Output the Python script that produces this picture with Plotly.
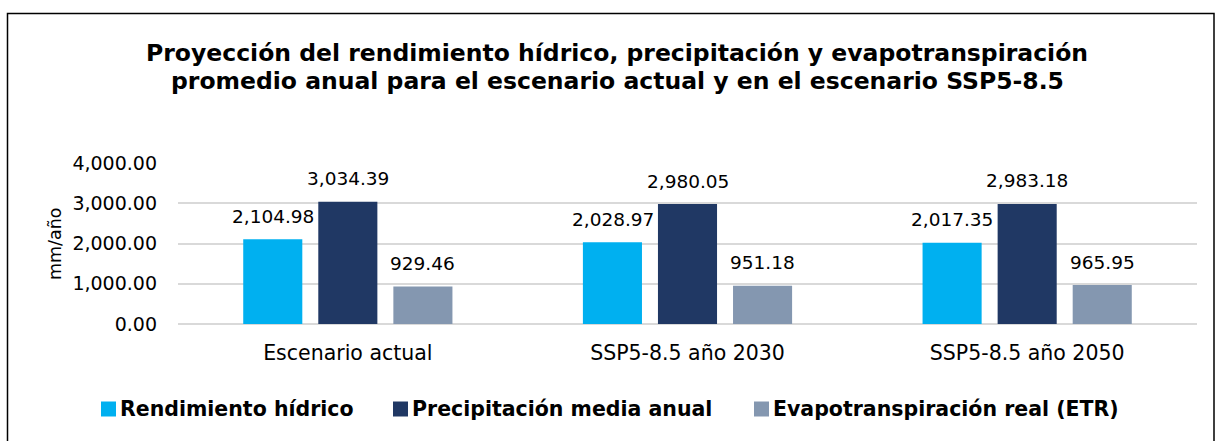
import plotly.graph_objects as go

categories = ["Escenario actual", "SSP5-8.5 año 2030", "SSP5-8.5 año 2050"]
series_names = ["Rendimiento hídrico", "Precipitación media anual", "Evapotranspiración real (ETR)"]
rendimiento = [2104.98, 2028.97, 2017.35]
precipitacion = [3034.39, 2980.05, 2983.18]
etr = [929.46, 951.18, 965.95]
colors = ["#00B0F0", "#203864", "#8497B0"]
y_ticks = [0, 1000, 2000, 3000, 4000]

W, H = 1215, 441
L, R, T, B = 178, 18, 163, 117
pw, ph = W - L - R, H - T - B

def px_x(x):
    return (x - L) / pw

def px_y(y):
    return (H - B - y) / ph

FONT = "DejaVu Sans"

fig = go.Figure()
all_series = [rendimiento, precipitacion, etr]
for name, vals, col in zip(series_names, all_series, colors):
    fig.add_trace(go.Bar(
        x=categories, y=vals, name=name, showlegend=False,
        marker=dict(color=col, line=dict(width=0)),
    ))

annotations = []
for i, vals in enumerate(all_series):
    for cat, v in zip(categories, vals):
        annotations.append(dict(
            x=cat, y=v, xref="x", yref="y", text=f"{v:,.2f}",
            showarrow=False, xshift=(i - 1) * 75, yshift=23,
            yanchor="middle", font=dict(family=FONT, size=18.5, color="#000000"),
        ))

title_lines = [
    "Proyección del rendimiento hídrico, precipitación y evapotranspiración",
    "promedio anual para el escenario actual y en el escenario SSP5-8.5",
]
for line, yc in zip(title_lines, [53, 81]):
    annotations.append(dict(
        x=px_x(617), y=px_y(yc), xref="paper", yref="paper",
        text=f"<b>{line}</b>", showarrow=False, xanchor="center", yanchor="middle",
        font=dict(family=FONT, size=23.5, color="#000000"),
    ))

annotations.append(dict(
    x=px_x(55), y=px_y(244), xref="paper", yref="paper", text="mm/año",
    showarrow=False, textangle=-90, xanchor="center", yanchor="middle",
    font=dict(family=FONT, size=17.5, color="#000000"),
))

# manual legend
legend_marker_x = [101, 393, 754]
legend_y = 409
shapes = []
for name, col, mx in zip(series_names, colors, legend_marker_x):
    shapes.append(dict(
        type="rect", xref="paper", yref="paper",
        x0=px_x(mx), x1=px_x(mx + 15), y0=px_y(legend_y + 7.5), y1=px_y(legend_y - 7.5),
        line=dict(width=0), fillcolor=col,
    ))
    annotations.append(dict(
        x=px_x(mx + 17), y=px_y(legend_y), xref="paper", yref="paper",
        text=f"<b>{name}</b>", showarrow=False, xanchor="left", yanchor="middle",
        font=dict(family=FONT, size=20.5, color="#000000"),
    ))

shapes.append(dict(
    type="rect", xref="paper", yref="paper",
    x0=px_x(7.5), x1=px_x(1214), y0=px_y(460), y1=px_y(13.5),
    line=dict(color="#000000", width=1.5), fillcolor="rgba(0,0,0,0)", layer="below",
))

fig.update_layout(
    width=W, height=H,
    margin=dict(l=L, r=R, t=T, b=B),
    paper_bgcolor="white", plot_bgcolor="white",
    barmode="group", bargap=0.337, bargroupgap=0.213,
    font=dict(family=FONT, color="#000000"),
    annotations=annotations,
    shapes=shapes,
    showlegend=False,
    xaxis=dict(
        showgrid=False, showline=False, ticks="", ticklabelstandoff=14,
        tickfont=dict(family=FONT, size=20.5, color="#000000"),
    ),
    yaxis=dict(
        range=[0, 4000], tickvals=y_ticks, tickformat=",.2f",
        showgrid=True, gridcolor="#D9D9D9", gridwidth=1.5,
        zeroline=True, zerolinecolor="#D9D9D9", zerolinewidth=1.5,
        showline=False, ticks="", ticklabelstandoff=20,
        tickfont=dict(family=FONT, size=19, color="#000000"),
    ),
)

fig.write_html("out.html", post_script="document.body.style.margin='0';",
               config={"displayModeBar": False})
